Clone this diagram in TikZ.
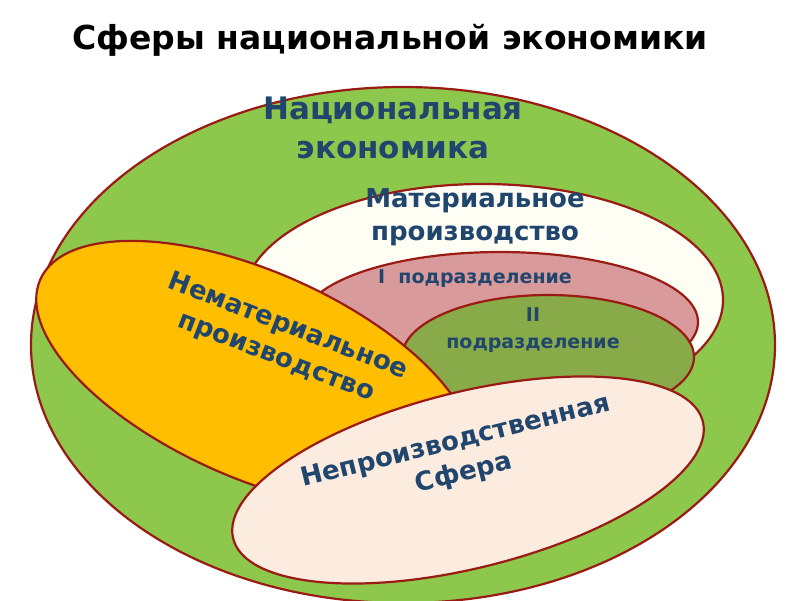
\documentclass[tikz,border=0pt]{standalone}
\usepackage{fontspec}
\setmainfont{DejaVu Sans}
\definecolor{gr}{HTML}{8DC84C}
\definecolor{pk}{HTML}{D99A9B}
\definecolor{ol}{HTML}{88AA48}
\definecolor{orn}{HTML}{FFBE00}
\definecolor{crm}{HTML}{FCEBDF}
\definecolor{tx}{HTML}{21466E}
\definecolor{ln}{HTML}{9A1A14}
\begin{document}
\begin{tikzpicture}[x=1pt,y=-1pt,
  shp/.style={draw=ln,line width=2.2pt},
  lbl/.style={text=tx,font=\bfseries,align=center}]
\useasboundingbox (0,0) rectangle (800,600);
\fill[white] (0,0) rectangle (800,600);
\draw[shp,fill=gr] (403,345) ellipse [x radius=372,y radius=258];
\draw[shp,fill=white!96!yellow] (483,300) ellipse [x radius=240,y radius=116];
\draw[shp,fill=pk] (500,322) ellipse [x radius=198,y radius=70];
\draw[shp,fill=ol] (548,357) ellipse [x radius=146,y radius=62];
\draw[shp,fill=orn,rotate around={-24:(255,375)}] (255,375) ellipse [x radius=235,y radius=103];
\draw[shp,fill=crm,rotate around={14:(468,480)}] (468,480) ellipse [x radius=242,y radius=88];
\node[font=\bfseries\fontsize{33}{40}\selectfont] (t) at (390,40) {Сферы национальной экономики};
\node[lbl,font=\bfseries\fontsize{31}{39}\selectfont] (ne) at (393,128) {Национальная\\экономика};
\node[lbl,font=\bfseries\fontsize{26}{33}\selectfont] (mp) at (475,217) {Материальное\\производство};
\node[lbl,font=\bfseries\fontsize{19}{20}\selectfont] (p1) at (475,279) {I\ \ подразделение};
\node[lbl,font=\bfseries\fontsize{19}{27}\selectfont] (p2) at (533,330) {II\\подразделение};
\node[lbl,font=\bfseries\fontsize{26}{33}\selectfont,rotate=-21] (nm) at (282,342) {Нематериальное\\производство};
\node[lbl,font=\bfseries\fontsize{26}{33}\selectfont,rotate=14] (np) at (460,458) {Непроизводственная\\Сфера};
\end{tikzpicture}
\end{document}
